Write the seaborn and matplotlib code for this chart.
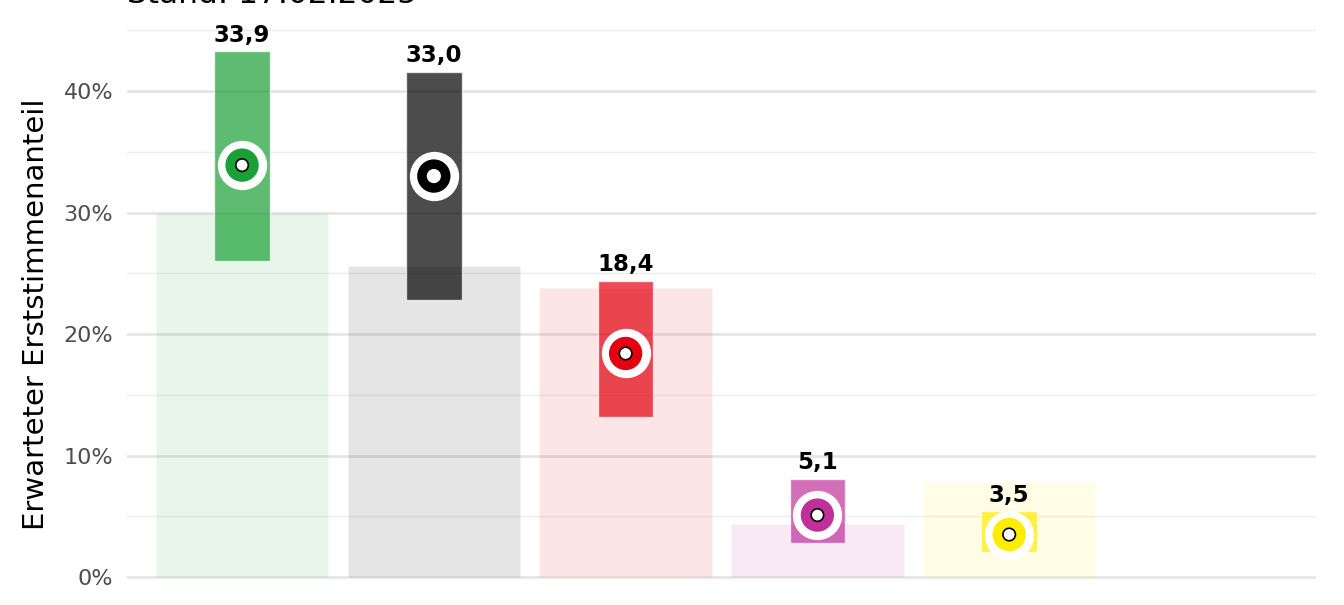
import numpy as np
import pandas as pd
import matplotlib
matplotlib.use("Agg")
import matplotlib.pyplot as plt
import seaborn as sns
from matplotlib.ticker import MultipleLocator, PercentFormatter

# Data (values in %)
parties = ["GRÜNE", "CDU", "SPD", "LINKE", "FDP", "Andere"]
previous = [30.0, 25.6, 23.8, 4.4, 7.8, np.nan]
estimate = [33.9, 33.0, 18.4, 5.1, 3.5, np.nan]
low = [26.0, 22.8, 13.2, 2.8, 2.1, np.nan]
high = [43.3, 41.6, 24.4, 8.1, 5.4, np.nan]
colors = ["#1AA037", "#000000", "#E3000F", "#C1309A", "#FFED00", "#FFFFFF"]

df = pd.DataFrame({"party": parties, "previous": previous, "estimate": estimate,
                   "low": low, "high": high})

sns.set_theme(style="whitegrid")
plt.rcParams["font.family"] = ["DejaVu Sans"]

fig = plt.figure(figsize=(13.44, 6.05), dpi=100)
ax = fig.add_axes([127 / 1344, 0, (1316 - 127) / 1344, 602.7 / 605])

# light bars: previous result
sns.barplot(data=df, x="party", y="previous", hue="party", palette=colors,
            width=0.9, alpha=0.1, saturation=1, legend=False, ax=ax, zorder=1)

# uncertainty range
x = np.arange(len(parties))
ax.bar(x, df["high"] - df["low"], bottom=df["low"], width=0.29,
       color=colors, alpha=0.7, zorder=2)

# points: white ring, party colour, white centre
ax.scatter(x, df["estimate"], s=35.5 ** 2, color="white", zorder=3, linewidths=0)
ax.scatter(x, df["estimate"], s=24 ** 2, color=colors, zorder=4, linewidths=0)
edge = ["black", "white", "black", "black", "black", "black"]
ax.scatter(x, df["estimate"], s=9 ** 2, color="white", edgecolors=edge,
           linewidths=1.2, zorder=5)

for xi, e, h in zip(x, df["estimate"], df["high"]):
    if np.isnan(e):
        continue
    ax.annotate(f"{e:.1f}".replace(".", ","), (xi, h), xytext=(0, 3),
                textcoords="offset points", ha="center", va="bottom",
                fontsize=16.5, fontweight="bold", color="black", zorder=6)

ax.set_xlim(-0.6, 5.6)
ax.set_ylim(-2.3, 47.3)
ax.yaxis.set_major_locator(MultipleLocator(10))
ax.yaxis.set_minor_locator(MultipleLocator(5))
ax.yaxis.set_major_formatter(PercentFormatter(decimals=0))
ax.set_axisbelow(True)
ax.grid(axis="y", which="major", color="#E3E3E3", linewidth=1.8)
ax.grid(axis="y", which="minor", color="#EDEDED", linewidth=1.0)
ax.grid(axis="x", visible=False)
for sp in ax.spines.values():
    sp.set_visible(False)
ax.set_xticks([])
ax.set_xlabel("")
ax.set_ylabel("Erwarteter Erststimmenanteil", fontsize=21, color="black")
ax.yaxis.set_label_coords(-0.0648, 0.483)
ax.tick_params(axis="y", labelsize=16, labelcolor="#4D4D4D", length=0, pad=10)

fig.text(127 / 1344, 1 - 3 / 605, "Stand: 17.02.2025", fontsize=22.5,
         ha="left", va="baseline", color="black")

fig.savefig("out.png", dpi=100)
